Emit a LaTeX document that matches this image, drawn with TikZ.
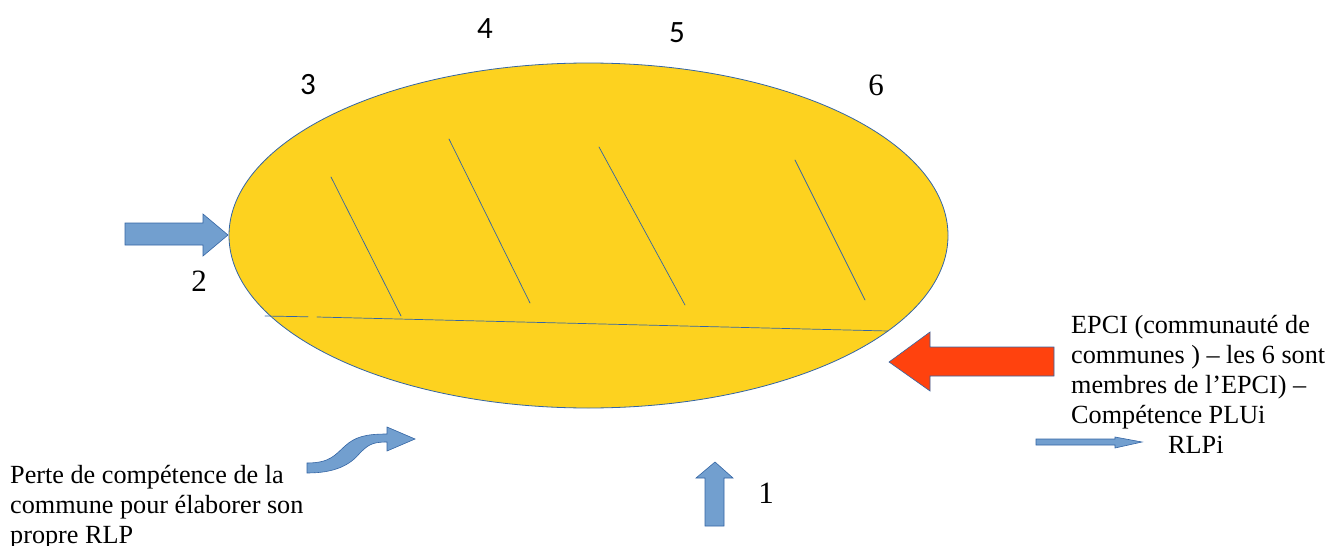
\documentclass[tikz,border=0pt]{standalone}
\usepackage{fontspec}
\setmainfont{Liberation Serif}
\newfontfamily\digitsans{Carlito}
\usetikzlibrary{shapes.geometric}
\definecolor{zoneyellow}{HTML}{FDD21F}
\definecolor{edgeblue}{HTML}{3465A4}
\definecolor{arrowblue}{HTML}{729FCF}
\definecolor{arrowred}{HTML}{FF420E}
\tikzset{
  blockarrow/.style={fill=arrowblue, draw=edgeblue, line width=0.6pt, line join=miter},
  hatch/.style={draw=edgeblue, line width=0.7pt},
  label/.style={inner sep=0pt, font=\fontsize{26.2}{30}\selectfont, align=left},
  digit/.style={inner sep=0pt, font=\fontsize{31}{31}\selectfont}
}

\begin{document}
\begin{tikzpicture}[x=1pt, y=-1pt, line cap=round]
  \useasboundingbox (0,0) rectangle (1336,546);
  \node[ellipse, draw=edgeblue, fill=zoneyellow, line width=0.8pt, inner sep=0pt,
        minimum width=719pt, minimum height=345pt] (zone) at (588.5,235.5) {};
  \coordinate (L) at (265,316);
  \coordinate (G1) at (308,316.8);
  \coordinate (G2) at (317,317);
  \coordinate (R) at (888,331);
  \draw[hatch] (L) -- (G1);
  \draw[hatch] (G2) -- (R);
  \draw[hatch] (331,177) -- (401,316);
  \draw[hatch] (449,139) -- (530,303);
  \draw[hatch] (599,147) -- (685,305);
  \draw[hatch] (795,160) -- (865,300);
  \draw[blockarrow] (125,223) -- (203,223) -- (203,214) -- (228,235) -- (203,256) -- (203,245) -- (125,245) -- cycle;
  \draw[blockarrow, fill=arrowred] (1054,347) -- (930,347) -- (930,332) -- (889,362) -- (930,391) -- (930,376) -- (1054,376) -- cycle;
  \draw[blockarrow] (705,526) -- (705,478) -- (696,478) -- (715,462) -- (733,478) -- (724,478) -- (724,526) -- cycle;
  \draw[blockarrow] (1036,439) -- (1115,439) -- (1115,437) -- (1142,442) -- (1115,448) -- (1115,445) -- (1036,445) -- cycle;
  \draw[blockarrow] (307,463) .. controls (330,463) and (335,455) .. (345,446)
    .. controls (355,437) and (365,434) .. (387,434) -- (387,427) -- (415,439)
    -- (387,451) -- (387,442) .. controls (372,442) and (368,445) .. (360,453)
    .. controls (350,465) and (335,473) .. (307,473) -- cycle;
  \node[digit, font=\digitsans\fontsize{31}{31}\selectfont] (n3) at (308,85) {3};
  \node[digit, font=\digitsans\fontsize{31}{31}\selectfont] (n4) at (485,29) {4};
  \node[digit, font=\digitsans\fontsize{31}{31}\selectfont] (n5) at (677,33) {5};
  \node[digit] (n6) at (876,85) {6};
  \node[digit] (n2) at (199,281) {2};
  \node[digit] (n1) at (766,493) {1};
  \node[label, anchor=base west] (epci) at (1071,333) {EPCI (communauté de};
  \node[label, anchor=base west] (epci2) at (1071,363) {communes ) – les 6 sont};
  \node[label, anchor=base west] (epci3) at (1071,393) {membres de l’EPCI) –};
  \node[label, anchor=base west] (epci4) at (1071,423) {Compétence PLUi};
  \node[label, anchor=base west] (rlpi) at (1168,453) {RLPi};
  \node[label, anchor=base west] (perte) at (10,483) {Perte de compétence de la};
  \node[label, anchor=base west] (perte2) at (10,513) {commune pour élaborer son};
  \node[label, anchor=base west] (perte3) at (10,543) {propre RLP};
\end{tikzpicture}
\end{document}
